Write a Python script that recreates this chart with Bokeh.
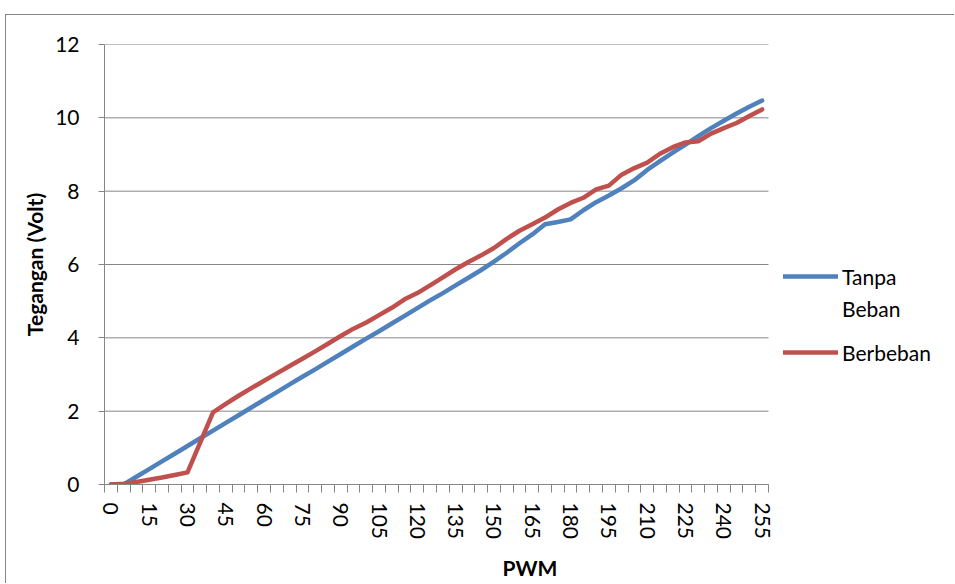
from bokeh.plotting import figure
from bokeh.models import Range1d, FixedTicker, Legend, LegendItem
from bokeh.embed import file_html
from bokeh.resources import INLINE

# ---- data ----
pwm = [0, 5, 10, 15, 20, 25, 30, 35, 40, 45, 50, 55, 60, 65, 70, 75, 80, 85, 90, 95,
       100, 105, 110, 115, 120, 125, 130, 135, 140, 145, 150, 155, 160, 165, 170, 175,
       180, 185, 190, 195, 200, 205, 210, 215, 220, 225, 230, 235, 240, 245, 250, 255]
tanpa_beban = [0, 0, 0.21, 0.42, 0.63, 0.84, 1.05, 1.26, 1.47, 1.68, 1.89, 2.1, 2.31,
               2.52, 2.73, 2.94, 3.14, 3.35, 3.56, 3.77, 3.98, 4.18, 4.39, 4.6, 4.81,
               5.02, 5.22, 5.43, 5.64, 5.85, 6.08, 6.32, 6.58, 6.82, 7.1, 7.16, 7.23,
               7.48, 7.7, 7.88, 8.08, 8.3, 8.58, 8.82, 9.05, 9.27, 9.5, 9.72, 9.92,
               10.12, 10.3, 10.47]
berbeban = [0, 0.02, 0.07, 0.13, 0.19, 0.26, 0.33, 1.15, 1.97, 2.2, 2.42, 2.63, 2.83,
            3.03, 3.23, 3.43, 3.63, 3.84, 4.05, 4.25, 4.42, 4.62, 4.82, 5.05, 5.22,
            5.43, 5.65, 5.87, 6.07, 6.25, 6.45, 6.7, 6.92, 7.1, 7.28, 7.5, 7.68, 7.82,
            8.05, 8.15, 8.45, 8.63, 8.78, 9.02, 9.2, 9.33, 9.36, 9.57, 9.72, 9.86,
            10.05, 10.23]
x_tick_labels = [0, 15, 30, 45, 60, 75, 90, 105, 120, 135, 150, 165, 180, 195, 210,
                 225, 240, 255]
y_ticks = [0, 2, 4, 6, 8, 10, 12]
series_names = ["Tanpa Beban", "Berbeban"]

# ---- style / layout ----
FONT = "Lato"
FS = "21px"
GREY = "#868686"
BLUE = "#4F81BD"
RED = "#C0504D"
FIG_W, FIG_H = 949, 569
BORDER_L, BORDER_T, BORDER_B = 98, 29, 100
DATA_W_PX = 664          # width of the plotting area proper

step = pwm[1] - pwm[0]
x_lo = pwm[0] - step / 2
x_hi = pwm[-1] + step / 2
frame_w = FIG_W - BORDER_L
x_end = x_lo + (x_hi - x_lo) * frame_w / DATA_W_PX

p = figure(width=FIG_W, height=FIG_H, output_backend="svg", toolbar_location=None,
           x_range=Range1d(x_lo, x_end),
           y_range=Range1d(y_ticks[0], y_ticks[-1]),
           min_border_left=BORDER_L, min_border_right=0, min_border_top=BORDER_T,
           min_border_bottom=BORDER_B, margin=(14, 0, 0, 5),
           styles={"border-top": "1px solid #868686",
                   "border-left": "1px solid #868686"})
p.outline_line_color = None
p.background_fill_color = "white"
p.border_fill_color = "white"

# horizontal gridlines limited to the plotting area
p.xgrid.visible = False
p.ygrid.visible = False
p.segment(x0=[x_lo] * len(y_ticks), y0=y_ticks, x1=[x_hi] * len(y_ticks), y1=y_ticks,
          line_color=GREY, line_width=1)

r1 = p.line(pwm, tanpa_beban, line_color=BLUE, line_width=4.5,
            line_join="round", line_cap="round")
r2 = p.line(pwm, berbeban, line_color=RED, line_width=4.5,
            line_join="round", line_cap="round")
r_blank = p.line(pwm, tanpa_beban, line_alpha=0)

# x axis
boundaries = [x_lo + step * k for k in range(len(pwm) + 1)]
xa = p.xaxis[0]
xa.bounds = (x_lo, x_hi)
xa.ticker = FixedTicker(ticks=x_tick_labels, minor_ticks=boundaries)
xa.major_label_orientation = "vertical"
xa.axis_line_color = GREY
xa.major_tick_line_color = None
xa.major_tick_out = 8
xa.major_tick_in = 0
xa.minor_tick_line_color = GREY
xa.minor_tick_out = 8
xa.minor_tick_in = 0
xa.major_label_standoff = 10
xa.major_label_text_font = FONT
xa.major_label_text_font_size = FS
xa.major_label_text_color = "black"
xa.axis_label = "PWM"
xa.axis_label_text_font = FONT
xa.axis_label_text_font_style = "bold"
xa.axis_label_text_font_size = FS
xa.axis_label_text_color = "black"
xa.axis_label_standoff = 13

# y axis
ya = p.yaxis[0]
ya.ticker = FixedTicker(ticks=y_ticks)
ya.axis_line_color = GREY
ya.major_tick_line_color = GREY
ya.major_tick_out = 6
ya.major_tick_in = 0
ya.minor_tick_line_color = None
ya.major_label_standoff = 19
ya.major_label_text_font = FONT
ya.major_label_text_font_size = FS
ya.major_label_text_color = "black"
ya.axis_label = "Tegangan (Volt)"
ya.axis_label_text_font = FONT
ya.axis_label_text_font_style = "bold"
ya.axis_label_text_font_size = FS
ya.axis_label_text_color = "black"
ya.axis_label_standoff = 5

# legend: "Tanpa Beban" wraps onto two lines, glyph beside the first line
words = series_names[0].split(" ")
common = dict(orientation="vertical", glyph_width=55, glyph_height=26,
              label_height=26, label_standoff=4, padding=0, margin=0,
              border_line_color=None, background_fill_alpha=0,
              label_text_font=FONT, label_text_font_size=FS,
              label_text_color="black")
legend_a = Legend(items=[LegendItem(label=words[0], renderers=[r1]),
                         LegendItem(label=words[1], renderers=[r_blank])],
                  location=(679, 163), spacing=6, **common)
legend_b = Legend(items=[LegendItem(label=series_names[1], renderers=[r2])],
                  location=(679, 119), spacing=6, **common)
p.add_layout(legend_a)
p.add_layout(legend_b)

open("out.html", "w").write(file_html(p, INLINE))
